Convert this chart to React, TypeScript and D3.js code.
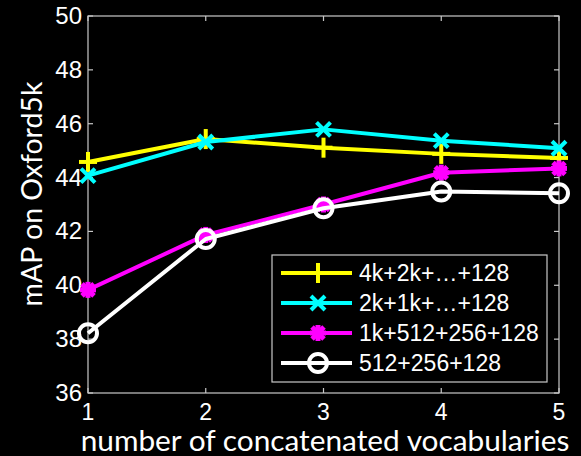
import React from "react";
import * as d3 from "d3";

const xValues = [1, 2, 3, 4, 5];
const yTicks = [36, 38, 40, 42, 44, 46, 48, 50];
const seriesNames = ["4k+2k+\u2026+128", "2k+1k+\u2026+128", "1k+512+256+128", "512+256+128"];
const seriesColors = ["#ffff00", "#00ffff", "#ff00ff", "#ffffff"];
const seriesMarkers = ["plus", "cross", "star", "circle"];
const yellowValues = [44.58, 45.43, 45.11, 44.88, 44.73];
const cyanValues = [44.07, 45.32, 45.79, 45.37, 45.09];
const magentaValues = [39.83, 41.87, 43.0, 44.18, 44.34];
const whiteValues = [38.22, 41.72, 42.86, 43.48, 43.42];
const allValues = [yellowValues, cyanValues, magentaValues, whiteValues];

const W = 581, H = 456;
const M = { left: 88, top: 16, right: 559, bottom: 393 };
const axisColor = "#c8c8c8";

function Marker({ kind, x, y, color }: { kind: string; x: number; y: number; color: string }) {
  const sw = 4;
  if (kind === "plus") {
    return (
      <g stroke={color} strokeWidth={sw}>
        <line x1={x - 9} y1={y} x2={x + 9} y2={y} />
        <line x1={x} y1={y - 10} x2={x} y2={y + 10} />
      </g>
    );
  }
  if (kind === "cross") {
    const s = 7;
    return (
      <g stroke={color} strokeWidth={sw}>
        <line x1={x - s} y1={y - s} x2={x + s} y2={y + s} />
        <line x1={x - s} y1={y + s} x2={x + s} y2={y - s} />
      </g>
    );
  }
  if (kind === "star") {
    const s = 8, d = 6;
    return (
      <g stroke={color} strokeWidth={sw + 1}>
        <line x1={x - s} y1={y} x2={x + s} y2={y} />
        <line x1={x} y1={y - s} x2={x} y2={y + s} />
        <line x1={x - d} y1={y - d} x2={x + d} y2={y + d} />
        <line x1={x - d} y1={y + d} x2={x + d} y2={y - d} />
        <circle cx={x} cy={y} r={5} fill={color} stroke="none" />
      </g>
    );
  }
  return <circle cx={x} cy={y} r={9} fill="none" stroke={color} strokeWidth={sw} />;
}

export default function App() {
  const x = d3.scaleLinear().domain([1, 5]).range([M.left, M.right]);
  const y = d3.scaleLinear().domain([36, 50]).range([M.bottom, M.top]);
  const line = d3.line<number>().x((_, i) => x(xValues[i])).y((d) => y(d));
  const tickFont = "Liberation Sans, Arial, sans-serif";
  const labelFont = "Lato, 'Open Sans', sans-serif";
  const legend = { x: 272, y: 255, w: 275, h: 127 };
  const rowY = (i: number) => 273 + i * 30;

  return (
    <svg width={W} height={H} style={{ position: "absolute", left: 0, top: 0, background: "#000" }}>
      <rect x={0} y={0} width={W} height={H} fill="#000" />
      {/* axes box */}
      <rect x={M.left} y={M.top} width={M.right - M.left} height={M.bottom - M.top} fill="none" stroke={axisColor} strokeWidth={1.2} />
      {xValues.map((v) => (
        <g key={"xt" + v} stroke={axisColor} strokeWidth={1.2}>
          <line x1={x(v)} x2={x(v)} y1={M.bottom} y2={M.bottom - 5} />
          <line x1={x(v)} x2={x(v)} y1={M.top} y2={M.top + 5} />
        </g>
      ))}
      {yTicks.map((v) => (
        <g key={"yt" + v} stroke={axisColor} strokeWidth={1.2}>
          <line x1={M.left} x2={M.left + 5} y1={y(v)} y2={y(v)} />
          <line x1={M.right} x2={M.right - 5} y1={y(v)} y2={y(v)} />
        </g>
      ))}
      {xValues.map((v) => (
        <text key={"xl" + v} x={x(v)} y={420} textAnchor="middle" fill="#fff" fontFamily={tickFont} fontSize={23}>
          {v}
        </text>
      ))}
      {yTicks.map((v) => (
        <text key={"yl" + v} x={82} y={y(v) + 8} textAnchor="end" fill="#fff" fontFamily={tickFont} fontSize={24}>
          {v}
        </text>
      ))}
      {/* series */}
      {allValues.map((vals, si) => (
        <g key={"s" + si}>
          <path d={line(vals) || ""} fill="none" stroke={seriesColors[si]} strokeWidth={4} strokeLinejoin="round" />
          {vals.map((v, i) => (
            <Marker key={i} kind={seriesMarkers[si]} x={x(xValues[i])} y={y(v)} color={seriesColors[si]} />
          ))}
        </g>
      ))}
      {/* legend */}
      <rect x={legend.x} y={legend.y} width={legend.w} height={legend.h} fill="#000" stroke={axisColor} strokeWidth={1.2} />
      {seriesNames.map((name, i) => (
        <g key={"lg" + i}>
          <line x1={281} x2={352} y1={rowY(i)} y2={rowY(i)} stroke={seriesColors[i]} strokeWidth={4} />
          <Marker kind={seriesMarkers[i]} x={318} y={rowY(i)} color={seriesColors[i]} />
          <text x={359} y={rowY(i) + 8} fill="#fff" fontFamily={tickFont} fontSize={23}>
            {name}
          </text>
        </g>
      ))}
      {/* axis labels */}
      <text x={325} y={451} textAnchor="middle" fill="#fff" fontFamily={labelFont} fontSize={29.8}>
        number of concatenated vocabularies
      </text>
      <text transform="translate(42,194) rotate(-90)" textAnchor="middle" fill="#fff" fontFamily={labelFont} fontSize={28.5}>
        mAP on Oxford5k
      </text>
    </svg>
  );
}
